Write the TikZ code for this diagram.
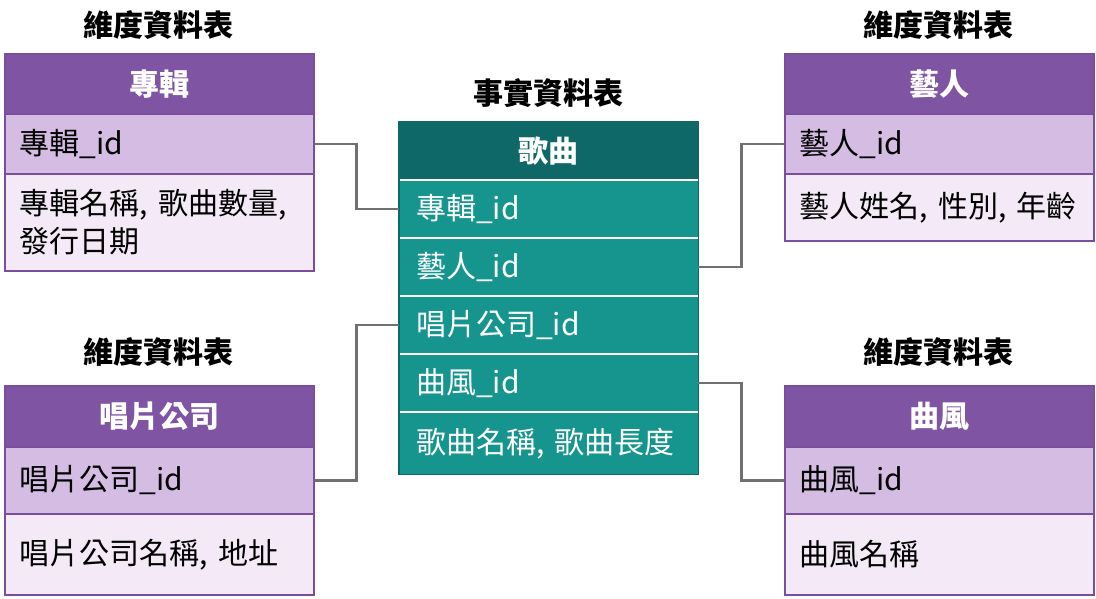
\documentclass[tikz,border=0pt]{standalone}
\usepackage{fontspec}
\setmainfont{Noto Sans CJK TC}
\begin{document}
\begin{tikzpicture}[x=1pt,y=-1pt,
 cell/.style={draw=pborder,line width=1.5pt,anchor=north west,inner sep=0pt,text width=#1-30pt,align=left,inner xsep=15pt,font=\fontsize{30}{38}\selectfont},
 phead/.style={cell=309pt,fill=pheadc,text=white,align=center,font=\bfseries\fontsize{30}{36}\selectfont},
 prow/.style={cell=309pt,fill=prowc},
 plight/.style={cell=309pt,fill=plightc},
 title/.style={font=\bfseries\fontsize{30}{36}\selectfont},
 thead/.style={anchor=north west,fill=theadc,draw=theadc,text=white,inner sep=0pt,minimum width=299pt,font=\bfseries\fontsize{30}{36}\selectfont},
 trow/.style={anchor=north west,fill=tbodyc,text=white,inner sep=0pt,inner xsep=17pt,text width=265pt,align=left,minimum height=58pt,font=\fontsize{30}{36}\selectfont},
 link/.style={draw=lgray,line width=2.5pt}]
\definecolor{pborder}{HTML}{7A4E9E}
\definecolor{pheadc}{HTML}{7E54A3}
\definecolor{prowc}{HTML}{D5BCE3}
\definecolor{plightc}{HTML}{F4EAF7}
\definecolor{theadc}{HTML}{0E6868}
\definecolor{tbodyc}{HTML}{16958F}
\definecolor{lgray}{HTML}{707070}
\useasboundingbox (0,0) rectangle (1096,598);
% top-left
\node[title] (t1) at (158,25) {維度資料表};
\node[phead,minimum height=60pt] (a0) at (4,53) {專輯};
\node[prow,minimum height=60pt] (a1) at (4,113) {專輯\_id};
\node[plight,minimum height=97pt] (a2) at (4,173) {專輯名稱, 歌曲數量,\\發行日期};
% bottom-left
\node[title] (t2) at (158,352) {維度資料表};
\node[phead,minimum height=61pt] (c0) at (4,385) {唱片公司};
\node[prow,minimum height=67pt] (c1) at (4,446) {唱片公司\_id};
\node[plight,minimum height=81pt] (c2) at (4,513) {唱片公司名稱, 地址};
% top-right
\node[title] (t3) at (938,25) {維度資料表};
\node[phead,minimum height=60pt] (r0) at (784,53) {藝人};
\node[prow,minimum height=60pt] (r1) at (784,113) {藝人\_id};
\node[plight,minimum height=67pt] (r2) at (784,173) {藝人姓名, 性別, 年齡};
% bottom-right
\node[title] (t4) at (938,352) {維度資料表};
\node[phead,minimum height=61pt] (g0) at (784,385) {曲風};
\node[prow,minimum height=67pt] (g1) at (784,446) {曲風\_id};
\node[plight,minimum height=81pt] (g2) at (784,513) {曲風名稱};
% center
\node[title] (tc) at (548,93) {事實資料表};
\node[thead,minimum height=58pt] (s0) at (399,122) {歌曲};
\node[trow] (s1) at (399,180) {專輯\_id};
\node[trow] (s2) at (399,238) {藝人\_id};
\node[trow] (s3) at (399,296) {唱片公司\_id};
\node[trow] (s4) at (399,354) {曲風\_id};
\node[trow,minimum height=62pt] (s5) at (399,412) {歌曲名稱, 歌曲長度};
\draw[white,line width=1.5pt] (s1.north west) -- (s1.north east) (s2.north west) -- (s2.north east)
 (s3.north west) -- (s3.north east) (s4.north west) -- (s4.north east) (s5.north west) -- (s5.north east);
\draw[draw=theadc,line width=1.5pt] (s0.north west) rectangle (s5.south east);
% links
\draw[link] (a1.east) -- ++(42,0) |- (s1.west);
\draw[link] (c1.east) -- ++(42,0) |- (s3.west);
\draw[link] (s2.east) -- ++(43,0) |- (r1.west);
\draw[link] (s4.east) -- ++(43,0) |- (g1.west);
\end{tikzpicture}
\end{document}
